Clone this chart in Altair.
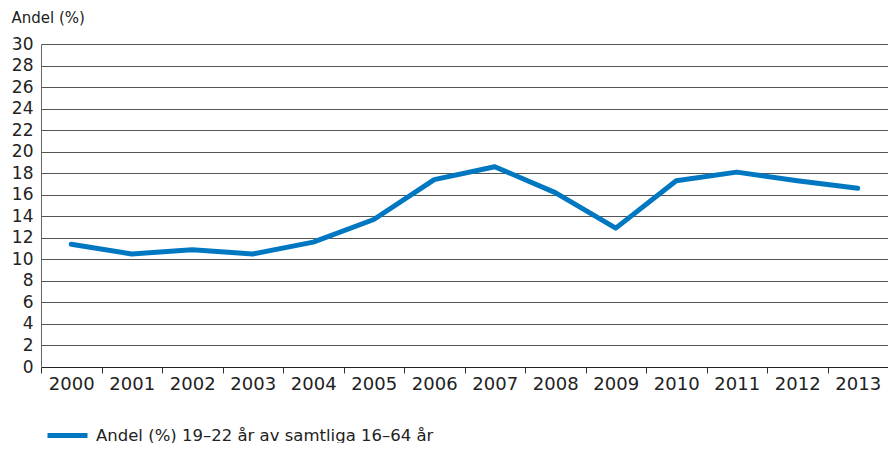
import altair as alt
import pandas as pd

years = [str(y) for y in range(2000, 2014)]
values = [11.4, 10.5, 10.9, 10.5, 11.6, 13.7, 17.4, 18.6, 16.2, 12.9, 17.3, 18.1, 17.3, 16.6]
series_name = "Andel (%) 19–22 år av samtliga 16–64 år"
y_ticks = list(range(0, 31, 2))

df = pd.DataFrame({"year": years, "value": values, "series": [series_name] * len(years)})

FONT = "DejaVu Sans"

chart = alt.Chart(df).mark_line(strokeWidth=5, strokeJoin="round", strokeCap="round").encode(
    x=alt.X("year:O", title=None, bandPosition=0.5,
            scale=alt.Scale(type="band", paddingInner=0, paddingOuter=0),
            axis=alt.Axis(labelAngle=0, labelFontSize=18, labelColor="#222", labelFont=FONT,
                          tickBand="extent", tickSize=6, tickColor="#333", domainColor="#222",
                          labelPadding=2, grid=False)),
    y=alt.Y("value:Q", title="Andel (%)",
            scale=alt.Scale(domain=[0, 30], nice=False),
            axis=alt.Axis(values=y_ticks, ticks=False, labelFontSize=17, labelColor="#222",
                          labelFont=FONT, labelPadding=8, domainColor="#666",
                          gridColor="#555", gridWidth=1, gridOpacity=1,
                          titleAngle=0, titleAlign="left", titleBaseline="middle",
                          titleX=-30, titleY=-27, titleFont=FONT, titleFontSize=15,
                          titleFontWeight="normal", titleColor="#222")),
    color=alt.Color("series:N", scale=alt.Scale(range=["#0078C1"]),
                    legend=alt.Legend(title=None, orient="none", legendX=4, legendY=369,
                                      symbolType="stroke", symbolStrokeWidth=5, symbolSize=1600,
                                      labelFont=FONT, labelFontSize=16.5, labelColor="#222",
                                      labelOffset=6, padding=0, labelLimit=600)),
).properties(
    width=847, height=323,
    autosize=alt.AutoSizeParams(type="none"),
    padding={"left": 33, "top": 36, "right": 0, "bottom": 76},
).configure_view(stroke=None).configure(background="white")

chart.save("out.html", embed_options={"renderer": "svg", "actions": False})
